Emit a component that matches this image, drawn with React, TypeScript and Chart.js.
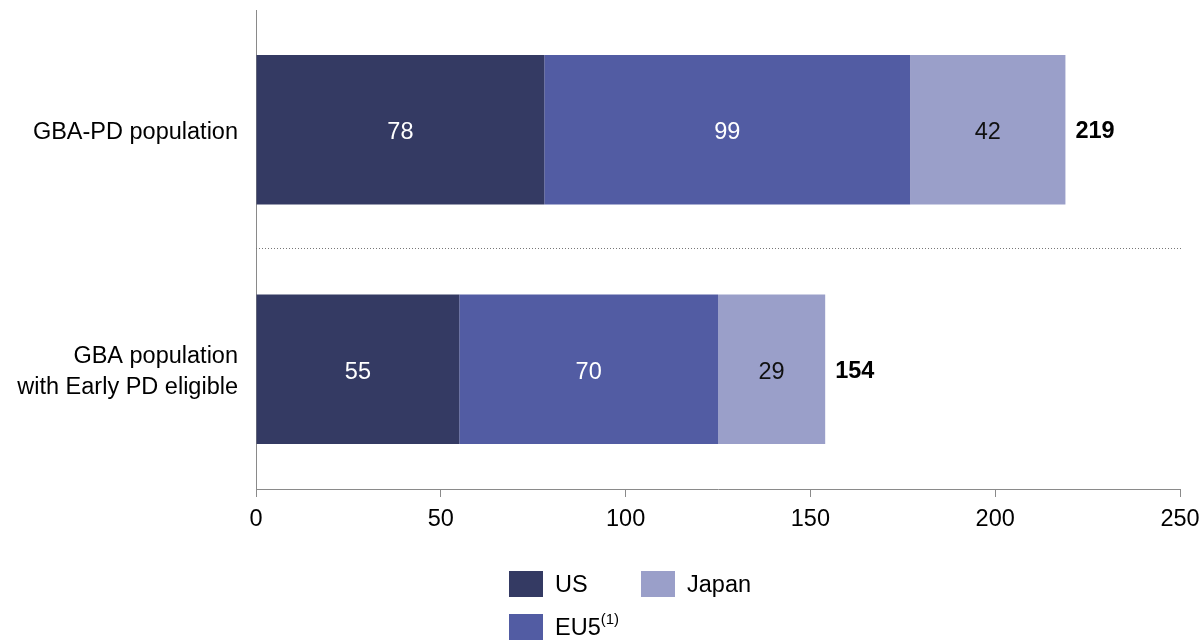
import React, { useEffect, useRef } from "react";
import { Chart, registerables } from "chart.js";

Chart.register(...registerables);

const categories: (string | string[])[] = ["GBA-PD population", ["GBA population", "with Early PD eligible"]];
const seriesNames = ["US", "EU5", "Japan"];
const usValues = [78, 55];
const eu5Values = [99, 70];
const japanValues = [42, 29];
const totals = [219, 154];
const xTicks = [0, 50, 100, 150, 200, 250];

const COLORS = ["#343a63", "#525ca3", "#9a9fc9"];
const LABEL_COLORS = ["#ffffff", "#ffffff", "#111111"];
const FONT = "Arial, 'Liberation Sans', sans-serif";
const FS = 23.5;

const labelsPlugin = {
  id: "segLabels",
  afterDatasetsDraw(chart: any) {
    const ctx = chart.ctx;
    ctx.save();
    ctx.textBaseline = "middle";
    chart.data.datasets.forEach((ds: any, di: number) => {
      const meta = chart.getDatasetMeta(di);
      meta.data.forEach((bar: any, i: number) => {
        const cx = (bar.x + bar.base) / 2;
        ctx.font = `${FS}px ${FONT}`;
        ctx.fillStyle = LABEL_COLORS[di];
        ctx.textAlign = "center";
        ctx.fillText(String(ds.data[i]), cx, bar.y + 3);
      });
    });
    const lastMeta = chart.getDatasetMeta(chart.data.datasets.length - 1);
    lastMeta.data.forEach((bar: any, i: number) => {
      ctx.font = `bold ${FS}px ${FONT}`;
      ctx.fillStyle = "#000";
      ctx.textAlign = "left";
      ctx.fillText(String(totals[i]), bar.x + 10, bar.y + 2);
    });
    // dotted separator between categories
    const y = chart.scales.y;
    const sepY = Math.round((y.getPixelForValue(0) + y.getPixelForValue(1)) / 2) - 2 + 0.5;
    ctx.strokeStyle = "#777";
    ctx.lineWidth = 1;
    ctx.setLineDash([1, 2]);
    ctx.beginPath();
    ctx.moveTo(chart.chartArea.left, sepY);
    ctx.lineTo(chart.chartArea.right + 1, sepY);
    ctx.stroke();
    ctx.setLineDash([]);
    ctx.restore();
  },
  afterDraw(chart: any) {
    const ctx = chart.ctx;
    ctx.save();
    const items = [
      { i: 0, x: 509, y: 571 },
      { i: 2, x: 641, y: 571 },
      { i: 1, x: 509, y: 614 },
    ];
    items.forEach((it) => {
      ctx.fillStyle = COLORS[it.i];
      ctx.fillRect(it.x, it.y, 34, 26);
      ctx.fillStyle = "#000";
      ctx.font = `${FS}px ${FONT}`;
      ctx.textAlign = "left";
      ctx.textBaseline = "middle";
      const name = seriesNames[it.i];
      const tx = it.x + 46;
      const ty = it.y + 15;
      ctx.fillText(name, tx, ty);
      if (name === "EU5") {
        const w = ctx.measureText(name).width;
        ctx.font = `15px ${FONT}`;
        ctx.fillText("(1)", tx + w, ty - 9);
      }
    });
    ctx.restore();
  },
};

export default function App() {
  const ref = useRef<HTMLCanvasElement>(null);
  useEffect(() => {
    if (!ref.current) return;
    const chart = new Chart(ref.current, {
      type: "bar",
      data: {
        labels: categories,
        datasets: [
          { label: seriesNames[0], data: usValues, backgroundColor: COLORS[0] },
          { label: seriesNames[1], data: eu5Values, backgroundColor: COLORS[1] },
          { label: seriesNames[2], data: japanValues, backgroundColor: COLORS[2] },
        ],
      },
      options: {
        indexAxis: "y",
        animation: false,
        responsive: false,
        devicePixelRatio: 1,
        layout: { padding: { top: 10, right: 23, left: 0, bottom: 0 } },
        datasets: { bar: { barPercentage: 0.625, categoryPercentage: 1.0, borderWidth: 0 } },
        plugins: { legend: { display: false }, tooltip: { enabled: false } },
        scales: {
          x: {
            stacked: true,
            min: 0,
            max: 250,
            afterBuildTicks: (s: any) => {
              s.ticks = xTicks.map((v) => ({ value: v }));
            },
            afterFit: (s: any) => {
              s.height = 151;
              s.paddingLeft = 0;
              s.paddingRight = 0;
            },
            grid: { drawOnChartArea: false, drawTicks: true, tickLength: 8, color: "#8a8a8a" },
            border: { color: "#8a8a8a", width: 1 },
            ticks: { color: "#000", font: { family: FONT, size: FS }, padding: 8, maxRotation: 0 },
          },
          y: {
            stacked: true,
            afterFit: (s: any) => {
              s.width = 256;
              s.paddingTop = 0;
              s.paddingBottom = 0;
            },
            grid: { display: false, drawTicks: false },
            border: { color: "#8a8a8a", width: 1 },
            ticks: { color: "#000", font: { family: FONT, size: FS, lineHeight: 1.32 }, padding: 18, labelOffset: 3 },
          },
        },
      },
      plugins: [labelsPlugin],
    } as any);
    return () => chart.destroy();
  }, []);
  return (
    <div style={{ position: "fixed", left: 0, top: 0, width: 1203, height: 640, background: "#fff" }}>
      <canvas ref={ref} width={1203} height={640} style={{ width: 1203, height: 640 }} />
    </div>
  );
}
